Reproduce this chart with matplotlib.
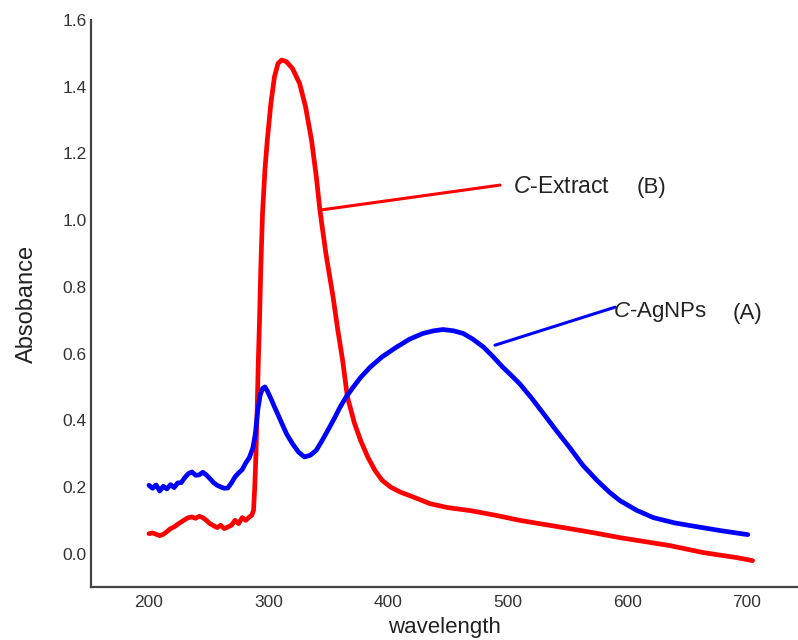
import matplotlib
matplotlib.use("Agg")
import matplotlib.pyplot as plt

plt.rcParams['font.family'] = ['Liberation Sans', 'DejaVu Sans']
plt.rcParams['mathtext.fontset'] = 'custom'
plt.rcParams['mathtext.it'] = 'Liberation Sans:italic'
plt.rcParams['mathtext.rm'] = 'Liberation Sans'

# C-AgNPs (A)
wl_agnps = [200, 203, 206, 209, 212, 215, 218, 221, 224, 227,
            230, 233, 236, 239, 242, 245, 248, 251, 254, 257,
            260, 263, 266, 269, 272, 275, 278, 281, 284, 287,
            289, 291, 293, 295, 297, 299, 302, 305, 310, 315,
            320, 325, 330, 335, 340, 345, 350, 355, 360, 365,
            370, 377, 385, 395, 407, 418, 429, 438, 446, 455,
            463, 471, 480, 488, 496, 503, 510, 520, 530, 541,
            552, 563, 575, 585, 594, 608, 622, 640, 663, 680,
            701]
abs_agnps = [0.205, 0.196, 0.206, 0.188, 0.202, 0.194, 0.207, 0.198, 0.212, 0.213,
             0.228, 0.24, 0.245, 0.235, 0.236, 0.244, 0.236, 0.225, 0.213, 0.205,
             0.2, 0.196, 0.197, 0.212, 0.23, 0.242, 0.252, 0.272, 0.288, 0.318,
             0.36, 0.43, 0.475, 0.495, 0.5, 0.488, 0.465, 0.44, 0.4, 0.36,
             0.33, 0.305, 0.29, 0.295, 0.31, 0.34, 0.372, 0.405, 0.44, 0.47,
             0.495, 0.528, 0.559, 0.59, 0.619, 0.643, 0.66, 0.668, 0.672, 0.668,
             0.66, 0.643, 0.619, 0.59, 0.559, 0.535, 0.51, 0.467, 0.42, 0.368,
             0.318, 0.265, 0.219, 0.185, 0.159, 0.13, 0.108, 0.092, 0.078, 0.068,
             0.057]

# C-Extract (B)
wl_extract = [200, 203, 206, 209, 212, 215, 218, 221, 224, 227,
              230, 233, 236, 239, 242, 245, 248, 251, 254, 257,
              260, 263, 266, 269, 272, 275, 278, 281, 284,
              286, 287.5, 288.5, 289.5, 290.5, 291.5, 292.5, 293.5,
              295, 297, 299, 302, 305, 308, 311, 315, 320, 326,
              331, 336, 340, 343, 348, 354, 358, 362, 366, 372,
              377, 383, 389, 395, 402, 410, 421, 435, 450, 469,
              490, 510, 530, 552, 573, 594, 615, 636, 664, 692,
              705]
abs_extract = [0.06, 0.062, 0.058, 0.054, 0.058, 0.066, 0.075, 0.08, 0.088, 0.095,
               0.102, 0.108, 0.11, 0.106, 0.112, 0.108, 0.1, 0.09, 0.084, 0.078,
               0.085, 0.075, 0.08, 0.085, 0.1, 0.09, 0.108, 0.1, 0.11,
               0.115, 0.13, 0.2, 0.3, 0.43, 0.58, 0.7, 0.85,
               1.02, 1.15, 1.24, 1.35, 1.43, 1.47, 1.48, 1.475, 1.455, 1.41,
               1.34, 1.24, 1.13, 1.03, 0.9, 0.77, 0.67, 0.58, 0.47, 0.39,
               0.34, 0.29, 0.25, 0.22, 0.2, 0.185, 0.17, 0.15, 0.138, 0.129,
               0.115, 0.1, 0.088, 0.075, 0.062, 0.048, 0.036, 0.024, 0.003, -0.012,
               -0.021]

x_ticks = [200, 300, 400, 500, 600, 700]
y_ticks = [0.0, 0.2, 0.4, 0.6, 0.8, 1.0, 1.2, 1.4, 1.6]

fig = plt.figure(figsize=(7.98, 6.4), dpi=100)
ax = fig.add_axes([91 / 798, 53 / 640, 707 / 798, 567 / 640])

ax.plot(wl_extract, abs_extract, color='#ff0000', lw=3.4, solid_capstyle='round',
        solid_joinstyle='round', zorder=3)
ax.plot(wl_agnps, abs_agnps, color='#0000ff', lw=3.4, solid_capstyle='round',
        solid_joinstyle='round', zorder=4)

ax.set_xlim(151.5, 743)
ax.set_ylim(-0.1, 1.6)
ax.set_xticks(x_ticks)
ax.set_yticks(y_ticks)
ax.set_xticklabels([str(v) for v in x_ticks])
ax.set_yticklabels([f"{v:.1f}" for v in y_ticks])
ax.tick_params(axis='both', length=0, labelsize=12.5, colors='#333333')
ax.tick_params(axis='x', pad=6)
ax.tick_params(axis='y', pad=3)

for s in ['top', 'right']:
    ax.spines[s].set_visible(False)
for s in ['left', 'bottom']:
    ax.spines[s].set_color('#444444')
    ax.spines[s].set_linewidth(1.6)

ax.set_xlabel('wavelength', fontsize=16, color='#222222', labelpad=5)
ax.set_ylabel('Absobance', fontsize=17, color='#222222', labelpad=18)

# leader lines
ax.annotate('', xy=(343, 1.03), xytext=(493.7, 1.105),
            arrowprops=dict(arrowstyle='-', color='#ff0000', lw=2.2, shrinkA=0, shrinkB=0))
ax.annotate('', xy=(489.5, 0.625), xytext=(590, 0.739),
            arrowprops=dict(arrowstyle='-', color='#0000ff', lw=2.2, shrinkA=0, shrinkB=0))

ax.text(504.6, 1.102, r'$C$-Extract', fontsize=16.5, color='#222222', va='center', ha='left')
ax.text(608.4, 1.098, '(B)', fontsize=16, color='#222222', va='center', ha='left')
ax.text(588.3, 0.724, r'$C$-AgNPs', fontsize=16, color='#222222', va='center', ha='left')
ax.text(687.9, 0.72, '(A)', fontsize=16, color='#222222', va='center', ha='left')

fig.savefig('out.png', dpi=100)
